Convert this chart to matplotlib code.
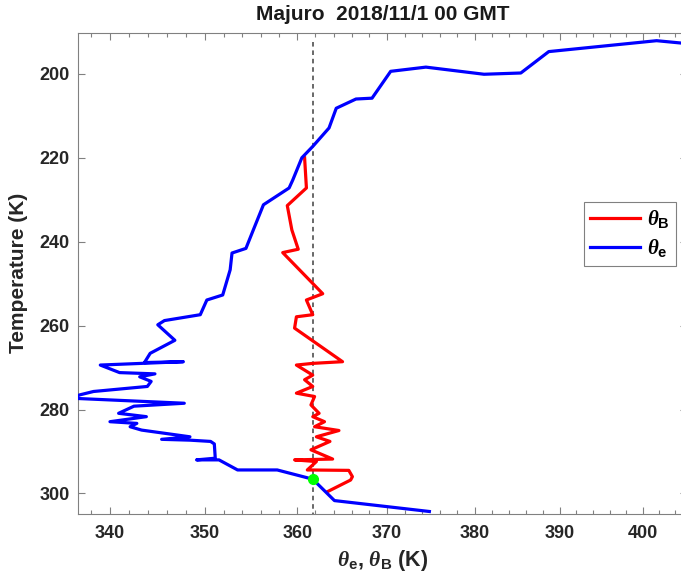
import matplotlib
matplotlib.use('Agg')
import matplotlib.pyplot as plt
from matplotlib.ticker import FixedLocator, NullFormatter, FixedFormatter

plt.rcParams['font.family'] = ['Liberation Sans', 'DejaVu Sans']
plt.rcParams['font.weight'] = 'bold'
plt.rcParams['mathtext.fontset'] = 'custom'
plt.rcParams['mathtext.rm'] = 'Liberation Sans:bold'
plt.rcParams['mathtext.bf'] = 'Liberation Sans:bold'
plt.rcParams['mathtext.it'] = 'Liberation Serif:italic'

# theta_e profile (temperature K, theta_e K)
temp_e = [192.9, 192.1, 194.7, 199.8, 200.1, 198.4, 199.4, 205.8, 206.0, 208.2,
          212.9, 217.3, 220.0, 225.3, 227.2, 231.2, 237.2, 241.6, 242.7, 246.7,
          252.7, 253.9, 257.4, 258.8, 259.8, 263.5, 266.6, 268.8, 268.6, 269.4,
          271.2, 271.5, 272.2, 273.3, 274.5, 275.7, 276.5, 277.3, 278.1, 278.5,
          279.2, 280.9, 281.7, 282.9, 283.3, 284.1, 284.9, 286.5, 287.1, 287.3,
          287.6, 288.2, 291.6, 292.0, 292.0, 294.4, 294.4, 296.6, 301.7, 304.3]
theta_e = [406.0, 401.7, 388.7, 385.4, 381.1, 374.4, 370.4, 368.3, 366.5, 364.3,
           363.5, 361.7, 360.5, 359.5, 359.1, 356.3, 355.2, 354.4, 352.9, 352.7,
           351.9, 350.2, 349.5, 345.7, 345.0, 346.8, 344.2, 343.6, 347.7, 339.0,
           341.0, 344.7, 343.1, 344.3, 343.9, 338.3, 336.9, 336.0, 343.8, 347.8,
           342.5, 340.9, 343.8, 340.0, 342.8, 342.1, 343.3, 348.4, 345.4, 348.4,
           350.6, 351.0, 351.1, 349.1, 351.5, 353.5, 357.8, 361.7, 364.1, 374.8]

# theta_B profile
temp_b = [220.0, 227.2, 231.4, 237.2, 241.8, 242.6, 252.4, 253.9, 257.4, 257.9,
          260.6, 268.6, 269.0, 269.4, 271.8, 272.9, 274.5, 276.1, 276.9, 278.9,
          280.9, 281.7, 282.9, 284.1, 285.0, 286.5, 287.6, 289.6, 291.8, 292.0,
          292.4, 294.4, 294.5, 296.0, 296.8, 299.6]
theta_b = [360.8, 361.0, 358.9, 359.4, 360.1, 358.4, 362.8, 361.0, 361.7, 359.9,
           359.7, 365.0, 361.7, 359.9, 361.7, 360.8, 361.7, 359.9, 361.9, 361.5,
           362.4, 361.7, 363.0, 361.9, 364.6, 362.1, 363.6, 361.5, 363.9, 359.7,
           362.1, 361.1, 365.7, 366.1, 365.9, 363.3]

theta_ref = 361.7
temp_ref = 296.6
dash_top = 192.3

xticks = [340, 350, 360, 370, 380, 390, 400]
xminor = [x for x in range(336, 406, 2) if x not in xticks]
yticks = [200, 220, 240, 260, 280, 300]

fig = plt.figure(figsize=(6.81, 5.78), dpi=100)
ax = fig.add_axes([0.1145, 0.1107, 0.895, 0.8327])

ax.plot([theta_ref, theta_ref], [dash_top, 310], color='#404040',
        lw=1.1, ls=(0, (3, 2.5)), zorder=1)
l1, = ax.plot(theta_b, temp_b, color=(1, 0, 0), lw=2.3, zorder=2)
l2, = ax.plot(theta_e, temp_e, color=(0, 0, 1), lw=2.3, zorder=3)
ax.plot([theta_ref], [temp_ref], 'o', color=(0, 1, 0), ms=7, zorder=4)

ax.set_xscale('log')
ax.set_xlim(336.7, 405.5)
ax.set_ylim(304.9, 190.2)
ax.xaxis.set_major_locator(FixedLocator(xticks))
ax.xaxis.set_major_formatter(FixedFormatter([str(x) for x in xticks]))
ax.xaxis.set_minor_locator(FixedLocator(xminor))
ax.xaxis.set_minor_formatter(NullFormatter())
ax.set_yticks(yticks)

ax.tick_params(which='both', direction='in', top=True, right=True,
               colors='#808080', labelcolor='#262626', labelsize=13)
ax.tick_params(which='major', length=5, width=0.8)
ax.tick_params(which='minor', length=3, width=0.8)
ax.tick_params(axis='x', pad=8)
ax.tick_params(axis='y', pad=6)
for s in ax.spines.values():
    s.set_color('#808080')

ax.set_title('Majuro  2018/11/1 00 GMT', fontsize=15, fontweight='bold',
             color='#1a1a1a', pad=9)
ax.set_ylabel('Temperature (K)', fontsize=15, fontweight='bold',
              color='#262626', labelpad=8)
ax.set_xlabel(r'$\theta_{\mathbf{e}}$, $\theta_{\mathbf{B}}$ (K)', fontsize=15.5,
              fontweight='bold', color='#262626', labelpad=4)

leg = fig.legend([l1, l2], [r'$\theta_{\mathbf{B}}$', r'$\theta_{\mathbf{e}}$'],
                 loc='upper left', bbox_to_anchor=(0.857, 0.651),
                 bbox_transform=fig.transFigure, borderaxespad=0,
                 fancybox=False, edgecolor='#808080', fontsize=15,
                 handlelength=2.4, handletextpad=0.35, borderpad=0.3,
                 labelspacing=0.35, framealpha=1)
leg.get_frame().set_linewidth(0.8)

fig.savefig('out.png', dpi=100)
